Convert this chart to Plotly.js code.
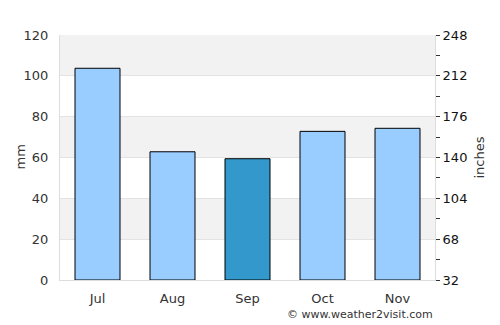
<!DOCTYPE html>
<html>
<head>
<meta charset="utf-8">
<script src="https://cdn.plot.ly/plotly-3.0.1.min.js"></script>
<style>html,body{margin:0;padding:0;background:#fff;}#chart{width:500px;height:325px;}</style>
</head>
<body>
<div id="chart"></div>
<script>
const months = ["Jul", "Aug", "Sep", "Oct", "Nov"];
const rainfallMm = [103.7, 62.8, 59.4, 72.8, 74.3];
const barColors = ["#99ccff", "#99ccff", "#3399cc", "#99ccff", "#99ccff"];
const leftTicks = [0, 20, 40, 60, 80, 100, 120];
const rightTicks = [32, 68, 104, 140, 176, 212, 248];
const bandRanges = [[20, 40], [60, 80], [100, 120]];

const fontFam = "DejaVu Sans, sans-serif";
const traces = [
  {
    type: "bar", x: months, y: rainfallMm,
    marker: {color: barColors, line: {color: "#000", width: 1}},
    width: 0.6, hoverinfo: "none", cliponaxis: false
  },
  {
    type: "scatter", x: [months[0]], y: [rightTicks[0]], yaxis: "y2",
    mode: "markers", marker: {opacity: 0}, hoverinfo: "none", showlegend: false
  }
];
const shapes = bandRanges.map(r => ({
  type: "rect", xref: "paper", yref: "y", x0: 0, x1: 1, y0: r[0], y1: r[1],
  fillcolor: "#f2f2f2", line: {width: 0}, layer: "below"
}));
const layout = {
  width: 500, height: 325,
  margin: {l: 60, r: 65, t: 35, b: 45},
  paper_bgcolor: "#fff", plot_bgcolor: "#fff",
  showlegend: false, bargap: 0.4,
  font: {family: fontFam, size: 13, color: "#333"},
  shapes: shapes,
  xaxis: {
    type: "category", showgrid: false, zeroline: false,
    showline: true, linecolor: "#dddddd", linewidth: 1, mirror: false,
    ticks: "", ticklabelstandoff: 6,
    tickfont: {family: fontFam, size: 13, color: "#333"}
  },
  yaxis: {
    range: [0, 120], tickvals: leftTicks, showgrid: true, gridcolor: "#e3e3e3", gridwidth: 1,
    zeroline: false, showline: true, linecolor: "#dddddd", linewidth: 1,
    ticks: "", ticklabelstandoff: 8,
    tickfont: {family: fontFam, size: 13, color: "#333"}
  },
  yaxis2: {
    overlaying: "y", side: "right", range: [32, 248], tickvals: rightTicks,
    showgrid: false, zeroline: false, showline: true, linecolor: "#dddddd", linewidth: 1,
    ticks: "outside", ticklen: 4, tickcolor: "#333", tickwidth: 1,
    minor: {ticks: "outside", ticklen: 4, tickcolor: "#333", dtick: 18, tick0: 32, showgrid: false},
    tickfont: {family: fontFam, size: 13, color: "#111"},
    title: {text: "inches", font: {family: fontFam, size: 13, color: "#333"}, standoff: 8}
  },
  annotations: [
    {
      text: "© www.weather2visit.com", xref: "paper", yref: "paper",
      x: 1, y: 0, xanchor: "right", yanchor: "top", yshift: -26,
      showarrow: false, font: {family: fontFam, size: 11, color: "#333"}
    },
    {
      text: "mm", xref: "paper", yref: "paper", x: 0, y: 0.5,
      xanchor: "center", yanchor: "middle", xshift: -40, textangle: -90,
      showarrow: false, font: {family: fontFam, size: 13, color: "#333"}
    }
  ]
};
Plotly.newPlot("chart", traces, layout, {displayModeBar: false, staticPlot: true});
</script>
</body>
</html>
